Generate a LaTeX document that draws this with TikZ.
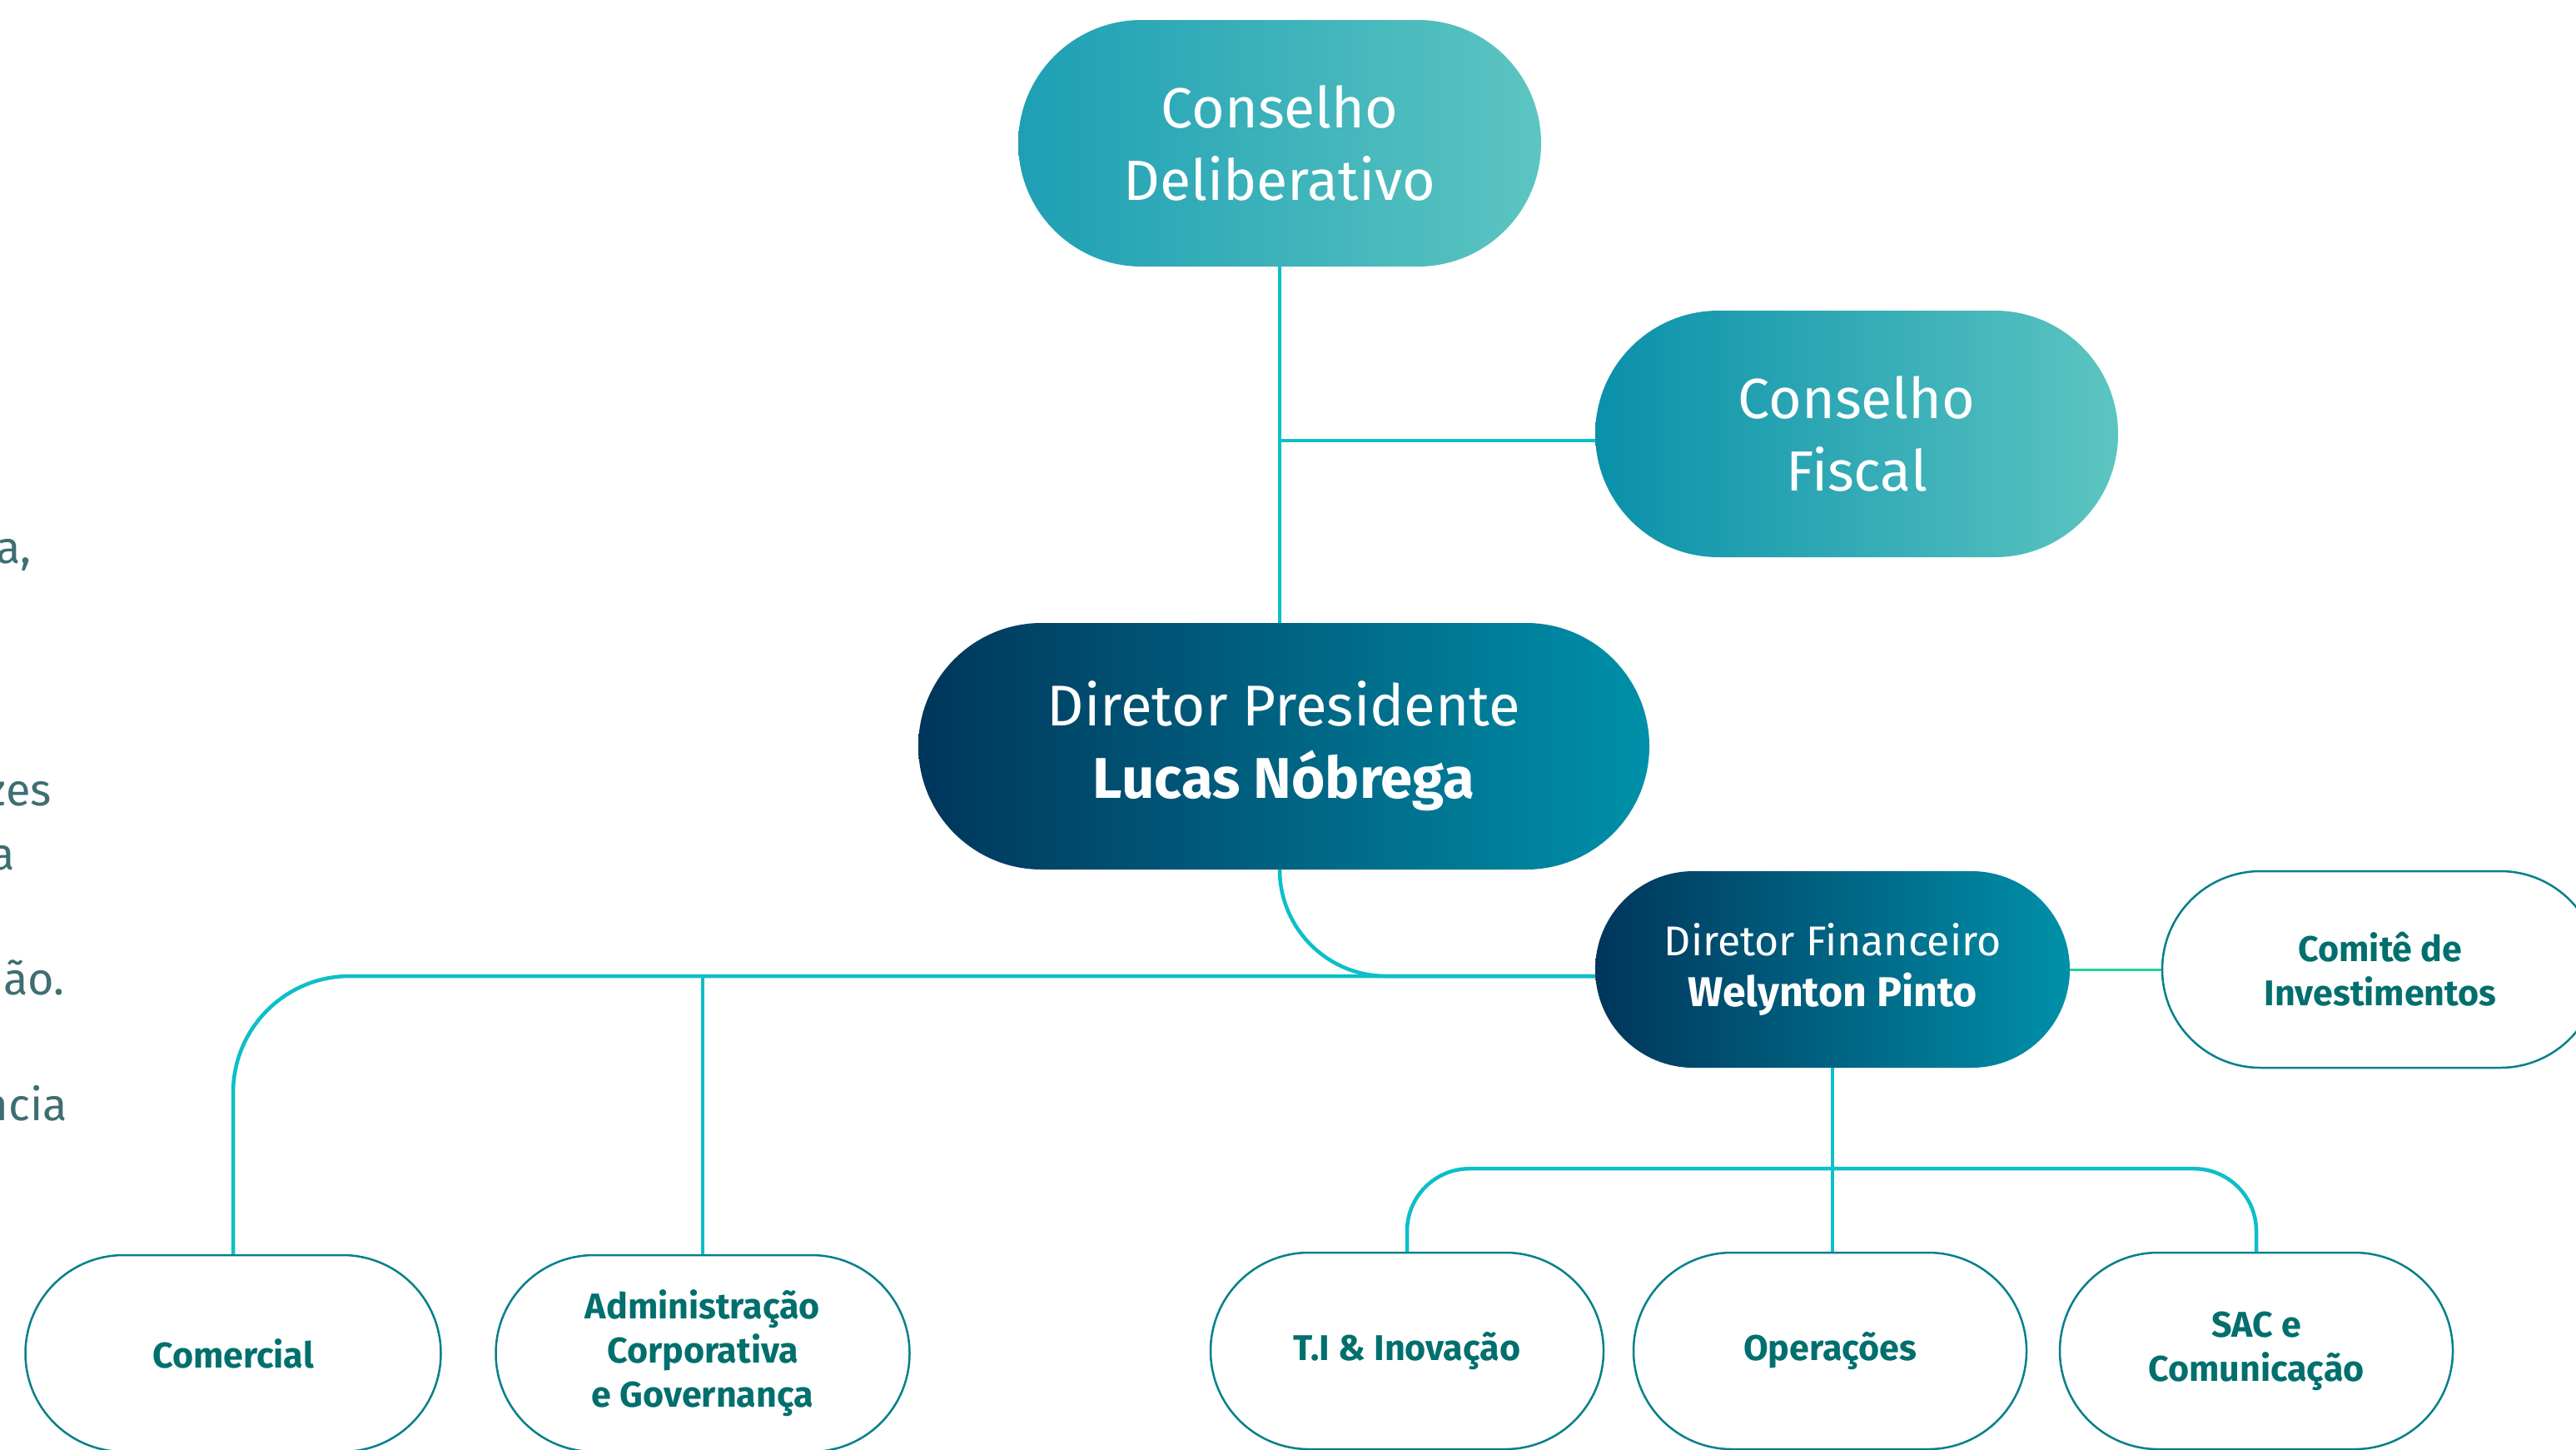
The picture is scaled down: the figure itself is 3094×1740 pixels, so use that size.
\documentclass[tikz,border=0pt]{standalone}
\usepackage{fontspec}
\setmainfont{Fira Sans}
\definecolor{linkcyan}{HTML}{0CBFC8}
\definecolor{mintline}{HTML}{1FD39A}
\definecolor{navy}{HTML}{00365B}
\definecolor{deepteal}{HTML}{0090A9}
\definecolor{midteal}{HTML}{1E9FB4}
\definecolor{fiscalteal}{HTML}{0A90AA}
\definecolor{lightteal}{HTML}{5CC5C1}
\definecolor{boxline}{HTML}{06808A}
\definecolor{boxtext}{HTML}{006F6D}
\definecolor{paratext}{HTML}{3E6E73}
\begin{document}
\begin{tikzpicture}[x=1pt,y=-1pt,
  pill/.style={rounded corners=#1, inner sep=0pt, align=center},
  council/.style={pill=148pt, minimum width=628pt, minimum height=296pt,
    left color=midteal, right color=lightteal, text=white,
    font=\fontsize{68}{87}\selectfont},
  director/.style={pill=#1, left color=navy, right color=deepteal, text=white},
  unit/.style={pill=118pt, draw=boxline, line width=2.5pt, fill=white,
    text=boxtext, minimum height=236pt, font=\bfseries\fontsize{43}{53}\selectfont},
  link/.style={draw=linkcyan, line width=4.5pt},
  para/.style={text=paratext, anchor=base east, inner sep=0pt,
    font=\fontsize{54}{70}\selectfont}]
\useasboundingbox (0,0) rectangle (3094,1740);
\fill[white] (0,0) rectangle (3094,1740);

\node[council] (delib) at (1537,172) {Conselho\\Deliberativo};
\node[council, left color=fiscalteal] (fiscal) at (2230,521) {Conselho\\Fiscal};
\node[director=148pt, minimum width=878pt, minimum height=296pt,
  font=\fontsize{69}{87}\selectfont] (pres) at (1542,896)
  {Diretor Presidente\\\textbf{Lucas Nóbrega}};
\node[director=118pt, minimum width=570pt, minimum height=236pt,
  font=\fontsize{50}{61}\selectfont] (fin) at (2201,1164)
  {Diretor Financeiro\\\textbf{Welynton Pinto}};
\node[unit, minimum width=524pt] (comite) at (2859,1164) {Comitê de\\Investimentos};

\node[unit, minimum width=499pt] (comercial) at (280,1625) {Comercial};
\node[unit, minimum width=497pt] (adm) at (844,1625) {Administração\\Corporativa\\e Governança};
\foreach \n/\x/\t in {ti/1690/T.I \& Inovação, oper/2198/Operações, sac/2710/{SAC e\\Comunicação}}
  \node[unit, minimum width=472pt] (\n) at (\x,1622) {\t};

\coordinate (bus) at ([yshift=-8pt]fin.west);
\coordinate (tap) at ([yshift=-8pt]fiscal.west);
\path (fin.south) ++(0,121) coordinate (fork);

\draw[link] (delib.south) -- (delib.south |- pres.north);
\draw[link] (delib.south |- tap) -- (tap);
\draw[link, rounded corners=128pt] (delib.south |- pres.south) |- (bus);
\draw[link, rounded corners=140pt] (bus) -| (comercial.north);
\draw[link] (bus -| adm.north) -- (adm.north);
\draw[draw=mintline, line width=3pt] (fin.east) -- (comite.west);
\draw[link] (fin.south) -- (fin.south |- oper.north);
\draw[link, rounded corners=75pt] (ti.north) |- (fork) -| (sac.north);

\node[para] (p1) at (38,676) {a,};
\node[para] (p2) at (62,967) {zes};
\node[para] (p3) at (18,1044) {a};
\node[para] (p4) at (78,1194) {ão.};
\node[para] (p5) at (81,1345) {ncia};
\end{tikzpicture}
\end{document}
